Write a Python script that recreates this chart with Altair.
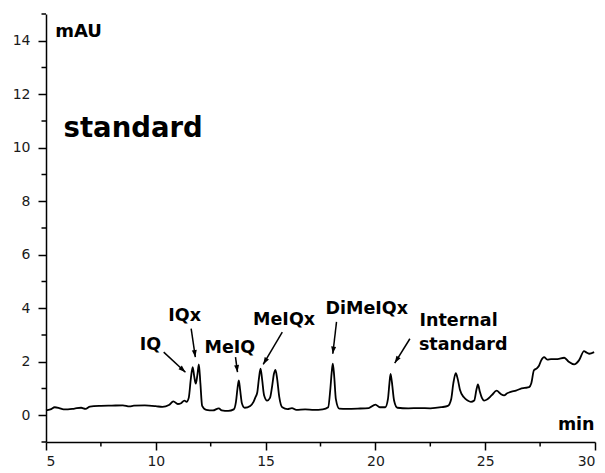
import math
import altair as alt
import pandas as pd

# ---- chromatogram trace ----
time_min = [5.0, 5.2, 5.4, 5.6, 5.8, 6.0, 6.3, 6.6, 6.8, 7.0, 7.5, 8.0, 8.5, 8.8, 9.0, 9.5,
            10.0, 10.3, 10.6, 10.8, 11.0, 11.15, 11.3, 11.4, 11.5, 11.6, 11.68, 11.75, 11.82,
            11.9, 11.96, 12.03, 12.11, 12.3, 12.6, 12.87, 13.0, 13.3, 13.55, 13.65, 13.72,
            13.78, 13.84, 13.92, 14.05, 14.3, 14.45, 14.54, 14.62, 14.7, 14.77, 14.84, 14.93,
            15.07, 15.2, 15.3, 15.38, 15.45, 15.52, 15.62, 15.76, 16.0, 16.2, 16.4, 16.8,
            17.2, 17.6, 17.85, 17.95, 18.01, 18.06, 18.12, 18.2, 18.35, 18.7, 19.2, 19.7,
            20.0, 20.2, 20.45, 20.57, 20.64, 20.69, 20.75, 20.85, 21.0, 21.5, 22.0, 22.5,
            23.0, 23.3, 23.45, 23.55, 23.66, 23.75, 23.85, 24.03, 24.2, 24.35, 24.5, 24.6,
            24.67, 24.75, 24.85, 24.95, 25.1, 25.3, 25.52, 25.7, 25.86, 26.0, 26.2, 26.4,
            26.6, 26.8, 27.0, 27.1, 27.22, 27.35, 27.45, 27.55, 27.68, 27.83, 28.0, 28.29,
            28.6, 28.8, 29.05, 29.27, 29.5, 29.6, 29.73, 29.96]
signal_mau = [0.18, 0.22, 0.3, 0.27, 0.22, 0.22, 0.25, 0.28, 0.24, 0.32, 0.35, 0.36, 0.37, 0.33,
              0.36, 0.37, 0.34, 0.31, 0.38, 0.52, 0.42, 0.45, 0.55, 0.5, 0.65, 1.4, 1.8, 1.45,
              1.18, 1.55, 1.9, 1.2, 0.35, 0.2, 0.18, 0.26, 0.18, 0.16, 0.22, 0.5, 1.0, 1.3,
              0.95, 0.45, 0.28, 0.35, 0.5, 0.68, 0.85, 1.4, 1.74, 1.35, 0.75, 0.55, 0.65, 1.1,
              1.55, 1.7, 1.4, 0.7, 0.3, 0.23, 0.27, 0.2, 0.22, 0.2, 0.22, 0.3, 1.0, 1.6, 1.93,
              1.5, 0.6, 0.25, 0.24, 0.25, 0.27, 0.4, 0.3, 0.3, 0.6, 1.2, 1.55, 1.25, 0.55, 0.28,
              0.26, 0.27, 0.26, 0.3, 0.35, 0.6, 1.2, 1.57, 1.35, 0.95, 0.67, 0.55, 0.5, 0.55,
              0.95, 1.15, 0.9, 0.65, 0.55, 0.6, 0.75, 0.92, 0.8, 0.74, 0.82, 0.88, 0.92, 0.99,
              1.02, 1.05, 1.2, 1.68, 1.75, 1.85, 2.05, 2.17, 2.08, 2.1, 2.1, 2.15, 2.0, 1.9,
              2.05, 2.4, 2.35, 2.3, 2.36]

# ---- annotation texts ----
text_labels = ["mAU", "standard", "IQ", "IQx", "MeIQ", "MeIQx", "DiMeIQx", "Internal", "standard", "min"]
text_x = [5.42, 5.80, 9.27, 10.57, 12.22, 14.43, 17.73, 22.01, 21.98, 28.31]
text_y = [14.14, 10.42, 2.45, 3.51, 2.32, 3.39, 3.78, 3.33, 2.43, -0.57]
text_size = [18, 27.5, 17.5, 17.5, 17.5, 17.5, 17.5, 17.5, 17.5, 17.5]

# ---- arrows (start -> tip) ----
arrow_x0 = [10.36, 11.61, 13.63, 15.76, 18.23, 21.57]
arrow_y0 = [2.36, 3.24, 2.17, 3.11, 3.49, 2.86]
arrow_x1 = [11.35, 11.80, 13.72, 14.89, 18.06, 20.88]
arrow_y1 = [1.61, 2.17, 1.61, 1.90, 2.30, 1.95]

# ---- axis ticks ----
x_major = [5, 10, 15, 20, 25, 30]
x_minor = [7.5, 12.5, 17.5, 22.5, 27.5]
y_major = [0, 2, 4, 6, 8, 10, 12, 14]
y_minor = [-1, 1, 3, 5, 7, 9, 11, 13, 15]

X_DOM = [5, 30]
Y_DOM = [-1, 15]
W, H = 549, 428

trace_df = pd.DataFrame({"t": time_min, "v": signal_mau})
text_df = pd.DataFrame({"label": text_labels, "x": text_x, "y": text_y, "fs": text_size})
arr_df = pd.DataFrame({"x0": arrow_x0, "y0": arrow_y0, "x1": arrow_x1, "y1": arrow_y1})
px_x = W / (X_DOM[1] - X_DOM[0])
px_y = H / (Y_DOM[1] - Y_DOM[0])
arr_df["ang"] = [
    math.degrees(math.atan2((x1 - x0) * px_x, (y1 - y0) * px_y)) % 360
    for x0, y0, x1, y1 in zip(arrow_x0, arrow_y0, arrow_x1, arrow_y1)
]
xminor_df = pd.DataFrame({"xm": x_minor})
yminor_df = pd.DataFrame({"ym": y_minor})

xs = alt.Scale(domain=X_DOM, nice=False, zero=False)
ys = alt.Scale(domain=Y_DOM, nice=False, zero=False)

x_axis = alt.Axis(values=x_major, tickSize=8, labelPadding=4, grid=False, title=None)
y_axis = alt.Axis(values=y_major, tickSize=8, labelPadding=8, grid=False, title=None)

line = alt.Chart(trace_df).mark_line(color="black", strokeWidth=1.8, interpolate="monotone").encode(
    x=alt.X("t:Q", scale=xs, axis=x_axis),
    y=alt.Y("v:Q", scale=ys, axis=y_axis),
)

texts = alt.Chart(text_df).mark_text(
    align="left", baseline="alphabetic", font="DejaVu Sans", fontWeight="bold", color="black"
).encode(
    x=alt.X("x:Q", scale=xs, title=None),
    y=alt.Y("y:Q", scale=ys, title=None),
    text="label:N",
    size=alt.Size("fs:Q", scale=None),
)

shafts = alt.Chart(arr_df).mark_rule(color="black", strokeWidth=1.5).encode(
    x=alt.X("x0:Q", scale=xs, title=None),
    y=alt.Y("y0:Q", scale=ys, title=None),
    x2="x1:Q",
    y2="y1:Q",
)

heads = alt.Chart(arr_df).mark_point(
    shape="M0,0L-0.38,1.1L0.38,1.1Z", filled=True, color="black", opacity=1, size=170
).encode(
    x=alt.X("x1:Q", scale=xs, title=None),
    y=alt.Y("y1:Q", scale=ys, title=None),
    angle=alt.Angle("ang:Q", scale=None),
)

x_minor_ticks = alt.Chart(xminor_df).mark_rule(color="black", strokeWidth=1.5).encode(
    x=alt.X("xm:Q", scale=xs, title=None),
    y=alt.value(H),
    y2=alt.value(H + 4.5),
)
y_minor_ticks = alt.Chart(yminor_df).mark_rule(color="black", strokeWidth=1.5).encode(
    y=alt.Y("ym:Q", scale=ys, title=None),
    x=alt.value(-4.5),
    x2=alt.value(0),
)

chart = alt.layer(line, x_minor_ticks, y_minor_ticks, shafts, heads, texts).properties(
    width=W, height=H,
    autosize="none",
    padding={"left": 46, "top": 14, "right": 10, "bottom": 31},
).configure_view(stroke=None).configure_axis(
    domainColor="black", domainWidth=1.5, tickColor="black", tickWidth=1.5,
    labelFont="DejaVu Sans", labelFontSize=14, labelColor="#1a1a1a",
)

chart.save("out.html", embed_options={"renderer": "svg", "actions": False})
